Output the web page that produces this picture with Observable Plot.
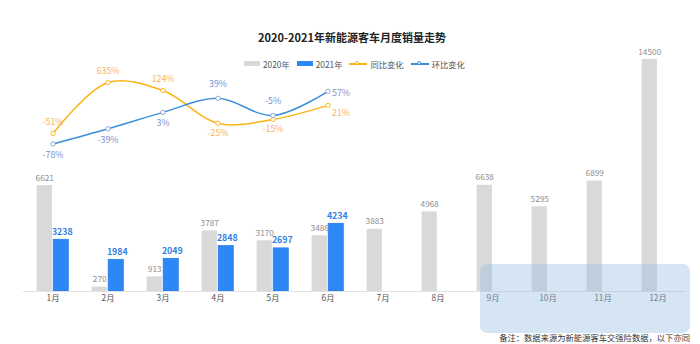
<!DOCTYPE html>
<html><head><meta charset="utf-8">
<script src="https://cdn.jsdelivr.net/npm/d3@7"></script>
<script src="https://cdn.jsdelivr.net/npm/@observablehq/plot@0.6"></script>
<style>
body{margin:0;background:#fff;font-family:"Noto Sans CJK SC","Noto Sans",sans-serif;}
#wrap{position:relative;width:700px;height:344px;overflow:hidden;background:#fff;}
#wrap svg{position:absolute;left:0;top:0;}
#title{position:absolute;left:0;width:704px;top:28px;text-align:center;font-size:11px;font-weight:bold;color:#222;line-height:18px;}
#legend{position:absolute;left:244px;top:57px;height:13px;display:flex;align-items:center;font-size:8.3px;color:#555;white-space:nowrap;}
#legend .sw{display:inline-block;width:16px;height:5px;margin-right:3px;}
#legend .ln{position:relative;display:inline-block;width:18px;height:2px;margin-right:3px;}
#legend .ln i{position:absolute;left:6px;top:-2px;width:4px;height:4px;border-radius:50%;background:#fff;border:1px solid;box-sizing:border-box;}
#legend .it{display:flex;align-items:center;margin-right:7px;}
#note{position:absolute;right:10px;top:330px;font-size:8.3px;color:#333;line-height:14px;}
#wm{position:absolute;left:480px;top:264px;width:210px;height:69px;border-radius:7px;background:rgba(150,190,228,0.40);}
</style></head><body>
<div id="wrap">
<div id="title">2020-2021年新能源客车月度销量走势</div>
<div id="legend"></div>
<div id="note">备注：数据来源为新能源客车交强险数据，以下亦同</div>
</div>
<script>
// ---- data ----
const months = ["1月","2月","3月","4月","5月","6月","7月","8月","9月","10月","11月","12月"];
const sales2020 = [6621, 270, 913, 3787, 3170, 3486, 3883, 4968, 6638, 5295, 6899, 14500];
const sales2021 = [3238, 1984, 2049, 2848, 2697, 4234];
const yoyChange = [-51, 635, 124, -25, -15, 21];   // 同比变化 (%)
const momChange = [-78, -39, 3, 39, -5, 57];       // 环比变化 (%)
const yoyLabelSide = ["top","top","top","bottom","bottom","right"];
const momLabelSide = ["bottom","bottom","bottom","top","top","right"];
const seriesNames = ["2020年","2021年","同比变化","环比变化"];

// ---- style ----
const C20 = "#d9d9d9", C21 = "#2e87f7", CYOY = "#fbb414", CMOM = "#3b8edb";
const W = 700, H = 344, mL = 23, mR = 14, mT = 59, mB = 53;
const bw = (W - mL - mR) / months.length;
const gap = 0.5, barW = 15.5;
const font = '"Noto Sans CJK SC","Noto Sans",sans-serif';

const d20 = months.map((m, i) => ({month: m, value: sales2020[i]}));
const d21 = sales2021.map((v, i) => ({month: months[i], value: v}));

const barPlot = Plot.plot({
  width: W, height: H, marginLeft: mL, marginRight: mR, marginTop: mT, marginBottom: mB,
  style: {background: "transparent", fontFamily: font, fontSize: "8.3px", color: "#555", overflow: "visible"},
  x: {type: "band", domain: months, padding: 0, tickSize: 0, tickPadding: 4, label: null},
  y: {domain: [0, Math.max(...sales2020)], axis: null},
  marks: [
    Plot.barY(d20, {x: "month", y: "value", fill: C20, insetLeft: bw/2 - gap - barW, insetRight: bw/2 + gap}),
    Plot.barY(d21, {x: "month", y: "value", fill: C21, stroke: "#1f74e0", strokeWidth: 0.6, insetLeft: bw/2 + gap, insetRight: bw/2 - gap - barW}),
    Plot.ruleY([0], {stroke: "#e2e2e2"}),
    Plot.text(d20, {x: "month", y: "value", text: d => String(d.value), dx: -(gap + barW/2), dy: -5, lineAnchor: "bottom", fill: "#8f8f8f", fontSize: 8.3}),
    Plot.text(d21, {x: "month", y: "value", text: d => String(d.value), dx: gap + barW/2 + 1, dy: -5, lineAnchor: "bottom", fill: "#2f7fe8", fontWeight: "bold", fontSize: 8.8})
  ]
});

const yoyData = yoyChange.map((v, i) => ({month: months[i], value: v, side: yoyLabelSide[i]}));
const momData = momChange.map((v, i) => ({month: months[i], value: v, side: momLabelSide[i]}));
const pct = d => d.value + "%";

const linePlot = Plot.plot({
  width: W, height: H, marginLeft: mL, marginRight: mR,
  style: {background: "transparent", fontFamily: font, overflow: "visible"},
  x: {type: "band", domain: months, padding: 0, axis: null},
  y: {type: "linear", domain: [-78, 57, 124, 635], range: [143.5, 90.8, 90, 82], axis: null},
  marks: [
    Plot.line(yoyData, {x: "month", y: "value", stroke: CYOY, strokeWidth: 1.5, curve: "catmull-rom"}),
    Plot.line(momData, {x: "month", y: "value", stroke: CMOM, strokeWidth: 1.5, curve: "catmull-rom"}),
    Plot.dot(yoyData, {x: "month", y: "value", r: 2.2, fill: "white", stroke: CYOY, strokeWidth: 0.9}),
    Plot.dot(momData, {x: "month", y: "value", r: 2.2, fill: "white", stroke: "#8aa0c8", strokeWidth: 0.9}),
    Plot.text(yoyData.filter(d => d.side === "top"), {x: "month", y: "value", text: pct, dy: -11, fill: "#f7b45c", fontSize: 8.8}),
    Plot.text(yoyData.filter(d => d.side === "bottom"), {x: "month", y: "value", text: pct, dy: 10, fill: "#f7b45c", fontSize: 8.8}),
    Plot.text(yoyData.filter(d => d.side === "right"), {x: "month", y: "value", text: pct, dx: 4, dy: 8, textAnchor: "start", fill: "#f7b45c", fontSize: 8.8}),
    Plot.text(momData.filter(d => d.side === "top"), {x: "month", y: "value", text: pct, dy: -14, fill: "#7b90d2", fontSize: 8.8}),
    Plot.text(momData.filter(d => d.side === "bottom"), {x: "month", y: "value", text: pct, dy: 11, fill: "#7b90d2", fontSize: 8.8}),
    Plot.text(momData.filter(d => d.side === "right"), {x: "month", y: "value", text: pct, dx: 4, dy: 2, textAnchor: "start", fill: "#7b90d2", fontSize: 8.8})
  ]
});

const wrap = document.getElementById("wrap");
wrap.insertBefore(linePlot, wrap.firstChild);
wrap.insertBefore(barPlot, wrap.firstChild);

// watermark box (background decoration)
const wm = document.createElement("div");
wm.id = "wm";
wrap.appendChild(wm);

// legend
const legend = document.getElementById("legend");
const kinds = [["sw", C20], ["sw", C21], ["ln", CYOY], ["ln", CMOM]];
seriesNames.forEach((name, i) => {
  const [k, c] = kinds[i];
  const it = document.createElement("span");
  it.className = "it";
  const s = document.createElement("span");
  s.className = k;
  s.style.background = c;
  if (k === "ln") { const dot = document.createElement("i"); dot.style.borderColor = c; s.appendChild(dot); }
  it.appendChild(s);
  it.appendChild(document.createTextNode(name));
  legend.appendChild(it);
});
</script>
</body></html>
